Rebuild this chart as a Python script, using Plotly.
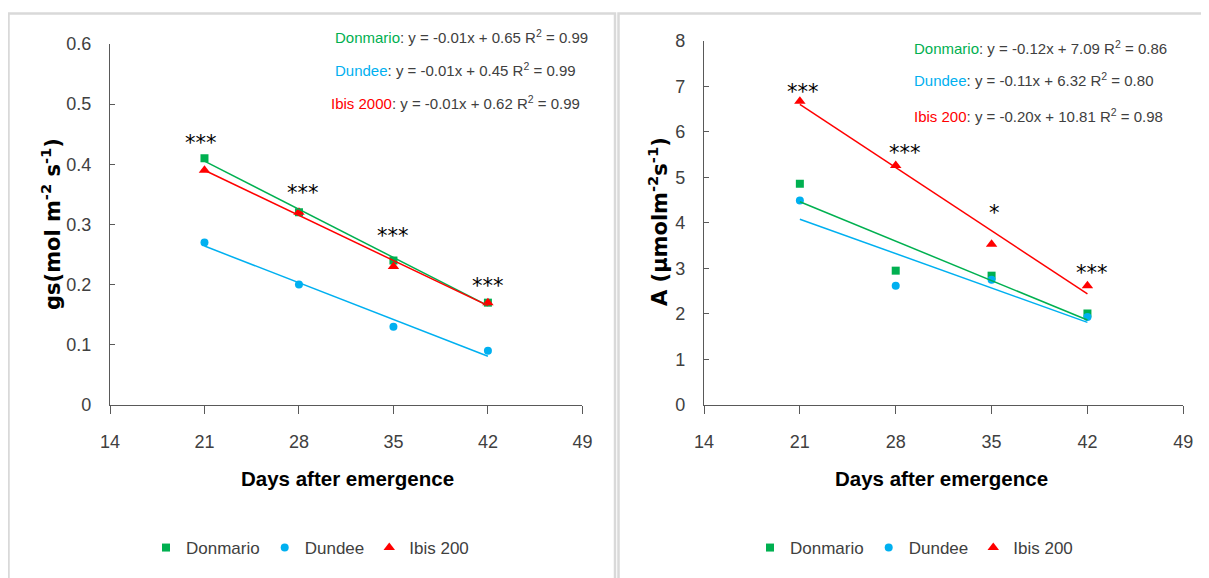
import numpy as np
import plotly.graph_objects as go

# ---------------- data ----------------
days = [21, 28, 35, 42]
x_ticks = [14, 21, 28, 35, 42, 49]
series_names = ["Donmario", "Dundee", "Ibis 200"]

gs_donmario = [0.41, 0.32, 0.24, 0.17]
gs_dundee = [0.27, 0.20, 0.13, 0.09]
gs_ibis = [0.39, 0.32, 0.23, 0.17]

a_donmario = [4.86, 2.95, 2.84, 2.01]
a_dundee = [4.49, 2.62, 2.75, 1.93]
a_ibis = [6.67, 5.26, 3.53, 2.62]

gs_sig = ["***", "***", "***", "***"]
gs_sig_y = [0.436, 0.352, 0.281, 0.198]
a_sig = ["***", "***", "*", "***"]
a_sig_y = [6.88, 5.53, 4.22, 2.90]

gs_eq_names = ["Donmario", "Dundee", "Ibis 2000"]
gs_eq_text = ["y = -0.01x + 0.65 R<sup>2</sup> = 0.99",
              "y = -0.01x + 0.45 R<sup>2</sup> = 0.99",
              "y = -0.01x + 0.62 R<sup>2</sup> = 0.99"]
a_eq_names = ["Donmario", "Dundee", "Ibis 200"]
a_eq_text = ["y = -0.12x + 7.09 R<sup>2</sup> = 0.86",
             "y = -0.11x + 6.32 R<sup>2</sup> = 0.80",
             "y = -0.20x + 10.81 R<sup>2</sup> = 0.98"]

# ---------------- styles ----------------
PAGE_W, PAGE_H = 1209, 578
OFF = 8  # default page body margin
W, H = PAGE_W - OFF, PAGE_H - OFF
colors = ["#00b050", "#00b0f0", "#ff0000"]
symbols = ["square", "circle", "triangle-up"]
msizes = [8, 8, 10]
FONT = "Liberation Sans, Arial, sans-serif"
TXT = "#404040"
gs_sig_dx = [-3, 4, 0, 0]
a_sig_dx = [3, 9, 3, 5]


def px(x):
    return (x - OFF) / W


def py(y):
    return 1 - (y - OFF) / H


fig = go.Figure()

panels = [
    ((gs_donmario, gs_dundee, gs_ibis), "x", "y", "legend"),
    ((a_donmario, a_dundee, a_ibis), "x2", "y2", "legend2"),
]

for vals_list, xa, ya, leg in panels:
    for i, vals in enumerate(vals_list):
        fig.add_trace(go.Scatter(
            x=days, y=vals, mode="markers", name=series_names[i],
            marker=dict(symbol=symbols[i], size=msizes[i], color=colors[i]),
            xaxis=xa, yaxis=ya, legend=leg, showlegend=True))
    for i, vals in enumerate(vals_list):
        slope, icpt = np.polyfit(days, vals, 1)
        xs = [days[0], days[-1]]
        fig.add_trace(go.Scatter(
            x=xs, y=[slope * v + icpt for v in xs], mode="lines",
            line=dict(color=colors[i], width=1.5),
            xaxis=xa, yaxis=ya, showlegend=False, hoverinfo="skip"))

axis_common = dict(showline=True, linecolor="#595959", linewidth=1.3,
                   showgrid=False, zeroline=False, mirror=False, automargin=False,
                   tickfont=dict(family=FONT, size=18, color=TXT))
xcommon = dict(range=[14, 49], tickvals=x_ticks, ticks="outside", ticklen=8,
               tickcolor="#595959", ticklabelstandoff=12)
ycommon = dict(ticks="inside", ticklen=5, tickcolor="#595959", ticklabelstandoff=14)

fig.update_layout(
    width=W, height=H,
    margin=dict(l=0, r=0, t=0, b=0, autoexpand=False),
    paper_bgcolor="white", plot_bgcolor="white",
    xaxis=dict(domain=[px(110), px(582.4)], anchor="y", **xcommon, **axis_common),
    yaxis=dict(domain=[py(405), py(43.8)], range=[0, 0.6], dtick=0.1, anchor="x",
               **ycommon, **axis_common),
    xaxis2=dict(domain=[px(704), px(1183.3)], anchor="y2", **xcommon, **axis_common),
    yaxis2=dict(domain=[py(405), py(40.7)], range=[0, 8], dtick=1, anchor="x2",
                **ycommon, **axis_common),
    legend=dict(orientation="h", x=px(146), y=py(548), xanchor="left", yanchor="middle",
                font=dict(family=FONT, size=17, color=TXT), bgcolor="rgba(0,0,0,0)",
                itemwidth=30, tracegroupgap=0),
    legend2=dict(orientation="h", x=px(750), y=py(548), xanchor="left", yanchor="middle",
                 font=dict(family=FONT, size=17, color=TXT), bgcolor="rgba(0,0,0,0)",
                 itemwidth=30, tracegroupgap=0),
    showlegend=True,
)

# panel borders
fig.add_shape(type="rect", xref="paper", yref="paper",
              x0=px(8.5), x1=px(615), y0=py(600), y1=py(13.5),
              line=dict(color="#d9d9d9", width=2.5), layer="below")
fig.add_shape(type="rect", xref="paper", yref="paper",
              x0=px(618.5), x1=px(1230), y0=py(600), y1=py(13.5),
              line=dict(color="#d9d9d9", width=2.5), layer="below")

# axis titles
fig.add_annotation(text="<b>gs(mol m<sup>-2</sup> s<sup>-1</sup>)</b>", textangle=-90,
                   xref="paper", yref="paper", x=px(51), y=py(224),
                   xanchor="center", yanchor="middle", showarrow=False,
                   font=dict(family="DejaVu Sans", size=21, color="black"))
fig.add_annotation(text="<b>A (µmolm<sup>-2</sup>s<sup>-1</sup>)</b>", textangle=-90,
                   xref="paper", yref="paper", x=px(658), y=py(222),
                   xanchor="center", yanchor="middle", showarrow=False,
                   font=dict(family="DejaVu Sans", size=21, color="black"))
for cx in (347, 942):
    fig.add_annotation(text="<b>Days after emergence</b>", xref="paper", yref="paper",
                       x=px(cx), y=py(478), xanchor="center", yanchor="middle",
                       showarrow=False,
                       font=dict(family=FONT, size=20.5, color="black"))

# significance stars
for d, s, yv, dx in zip(days, gs_sig, gs_sig_y, gs_sig_dx):
    fig.add_annotation(text=s, x=d, y=yv, xref="x", yref="y", showarrow=False,
                       xanchor="center", yanchor="middle", xshift=dx,
                       font=dict(family="DejaVu Sans", size=21, color="black"))
for d, s, yv, dx in zip(days, a_sig, a_sig_y, a_sig_dx):
    fig.add_annotation(text=s, x=d, y=yv, xref="x2", yref="y2", showarrow=False,
                       xanchor="center", yanchor="middle", xshift=dx,
                       font=dict(family="DejaVu Sans", size=21, color="black"))

# equations
left_eq_pos = [(333, 36), (333, 69), (329, 103)]
right_eq_pos = [(912, 47.7), (912, 80), (912, 115)]
for names, texts, pos in ((gs_eq_names, gs_eq_text, left_eq_pos),
                          (a_eq_names, a_eq_text, right_eq_pos)):
    for i in range(3):
        fig.add_annotation(
            text=f'<span style="color:{colors[i]}">{names[i]}</span>: {texts[i]}',
            xref="paper", yref="paper", x=px(pos[i][0]), y=py(pos[i][1]),
            xanchor="left", yanchor="middle", showarrow=False,
            font=dict(family=FONT, size=15, color=TXT))

fig.write_html("out.html")
